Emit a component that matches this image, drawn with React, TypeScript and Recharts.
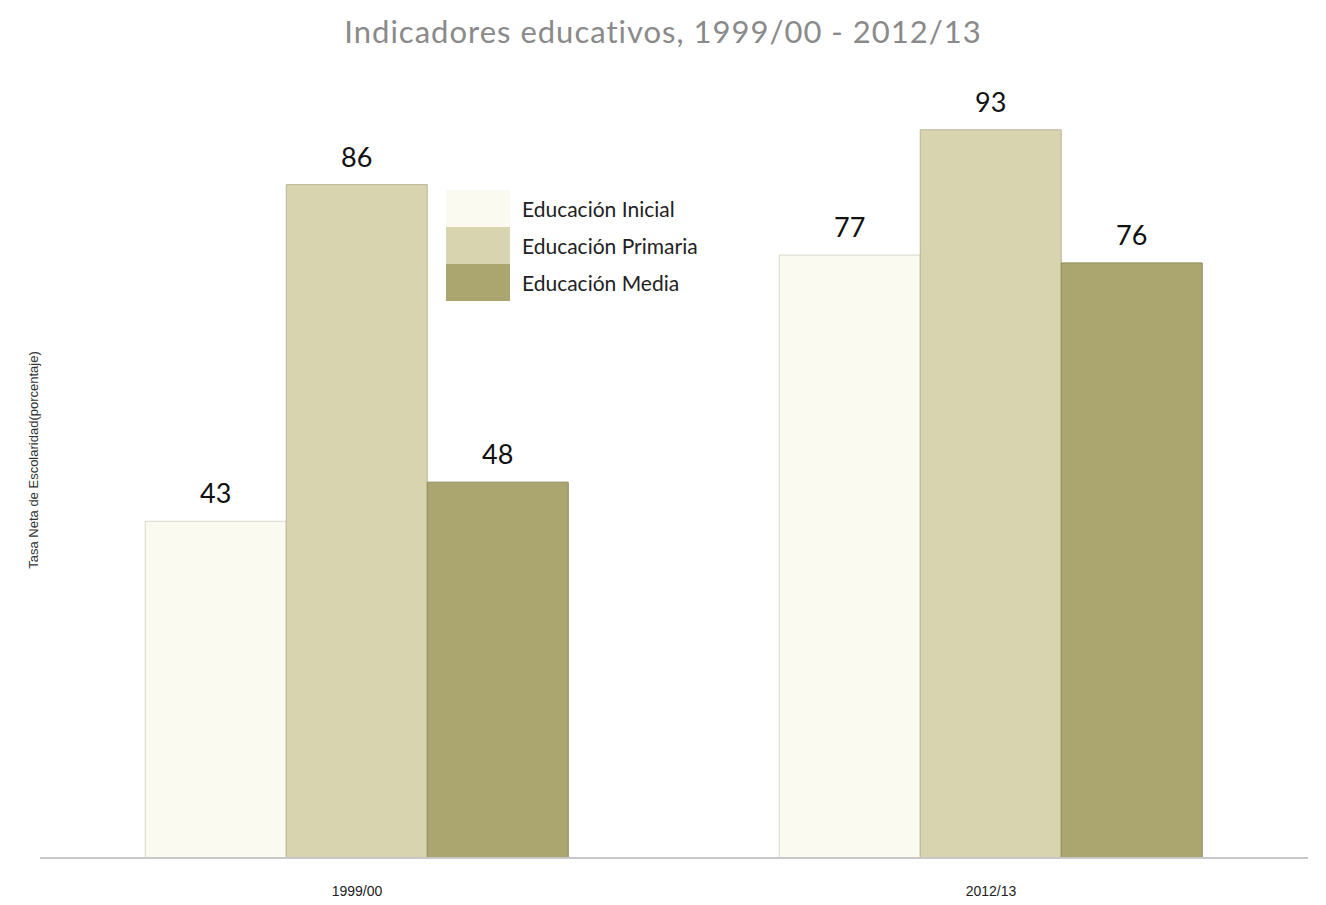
import React from 'react';
import { BarChart, Bar, XAxis, YAxis, LabelList } from 'recharts';

const periods = ['1999/00', '2012/13'];
const inicial = [43, 77];
const primaria = [86, 93];
const media = [48, 76];

const SERIES = [
  { key: 'inicial', name: 'Educación Inicial', color: '#fbfaf0', stroke: '#d9d8cc' },
  { key: 'primaria', name: 'Educación Primaria', color: '#d8d4b0', stroke: '#b9b597' },
  { key: 'media', name: 'Educación Media', color: '#aba56f', stroke: '#8f8a5c' }
];

const data = periods.map((p, i) => ({
  period: p,
  inicial: inicial[i],
  primaria: primaria[i],
  media: media[i]
}));

const FONT = 'Lato, "DejaVu Sans", sans-serif';
const NARROW = '"Liberation Sans Narrow", "Liberation Sans", sans-serif';

// legend drawn as a plain overlay so it doesn't eat into the plot area
const LegendBox = () => (
  <div style={{ position: 'absolute', left: 446, top: 190, fontFamily: FONT }}>
    {SERIES.map(s => (
      <div key={s.key} style={{ display: 'flex', alignItems: 'center', height: 37 }}>
        <div style={{ width: 64, height: 37, background: s.color }} />
        <span style={{ marginLeft: 12, fontSize: 21, color: '#222' }}>{s.name}</span>
      </div>
    ))}
  </div>
);

const App: React.FC = () => {
  return (
    <div style={{ position: 'absolute', left: 0, top: 0, width: 1326, height: 905, background: '#fff' }}>
      <div
        style={{
          position: 'absolute',
          top: 12,
          width: 1326,
          textAlign: 'center',
          fontFamily: FONT,
          fontSize: 31,
          letterSpacing: 1,
          color: '#8a8a8a'
        }}
      >
        Indicadores educativos, 1999/00 - 2012/13
      </div>
      <div
        style={{
          position: 'absolute',
          left: 33,
          top: 460,
          transform: 'translate(-50%, -50%) rotate(-90deg)',
          whiteSpace: 'nowrap',
          fontFamily: NARROW,
          fontSize: 13,
          color: '#333'
        }}
      >
        Tasa Neta de Escolaridad(porcentaje)
      </div>
      <BarChart
        width={1326}
        height={905}
        data={data}
        margin={{ top: 75, right: 18, bottom: 7, left: 40 }}
        barCategoryGap="16.6%"
        barGap={0}
      >
        <XAxis
          dataKey="period"
          height={40}
          tickLine={false}
          axisLine={{ stroke: '#c8c8c8', strokeWidth: 2 }}
          tick={{ fontSize: 14, fill: '#222', fontFamily: NARROW }}
          tickMargin={22}
        />
        <YAxis hide domain={[0, 100]} />
        {SERIES.map(s => (
          <Bar
            key={s.key}
            dataKey={s.key}
            name={s.name}
            fill={s.color}
            stroke={s.stroke}
            strokeWidth={1}
            isAnimationActive={false}
          >
            <LabelList
              dataKey={s.key}
              position="top"
              offset={18}
              style={{ fontSize: 27, fill: '#111', fontFamily: FONT }}
            />
          </Bar>
        ))}
      </BarChart>
      <LegendBox />
    </div>
  );
};

export default App;
